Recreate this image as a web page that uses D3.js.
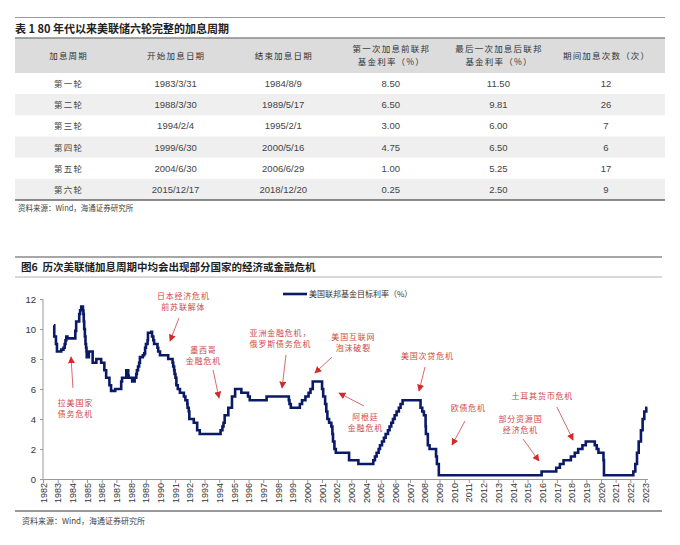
<!DOCTYPE html>
<html><head><meta charset="utf-8">
<script src="https://cdn.jsdelivr.net/npm/d3@7"></script>
<style>body{margin:0;background:#fff;}svg{display:block;}</style>
</head><body>
<svg id="c" width="680" height="545"></svg>
<script>
// ---------- Table data ----------
const tableTitle = "表 1 80 年代以来美联储六轮完整的加息周期";
const tableHeaders = [["加息周期"],["开始加息日期"],["结束加息日期"],["第一次加息前联邦","基金利率（%）"],["最后一次加息后联邦","基金利率（%）"],["期间加息次数（次）"]];
const cycles = ["第一轮","第二轮","第三轮","第四轮","第五轮","第六轮"];
const startDates = ["1983/3/31","1988/3/30","1994/2/4","1999/6/30","2004/6/30","2015/12/17"];
const endDates = ["1984/8/9","1989/5/17","1995/2/1","2000/5/16","2006/6/29","2018/12/20"];
const rateBefore = ["8.50","6.50","3.00","4.75","1.00","0.25"];
const rateAfter = ["11.50","9.81","6.00","6.50","5.25","2.50"];
const hikeCount = ["12","26","7","6","17","9"];
const sourceText = "资料来源：Wind，海通证券研究所";

// ---------- Chart data ----------
const chartTitle = "图6  历次美联储加息周期中均会出现部分国家的经济或金融危机";
const seriesName = "美国联邦基金目标利率（%）";
const yTicks = [0,2,4,6,8,10,12];
const yearLabels = d3.range(1982, 2024).map(String);
const rateDates = ["1982-09-27","1982-10-08","1982-11-19","1982-12-14","1983-03-31","1983-05-25","1983-06-24","1983-07-14","1983-08-04","1983-09-01",
"1984-03-15","1984-04-05","1984-06-20","1984-07-12","1984-08-09","1984-09-20","1984-10-02","1984-10-11","1984-10-22","1984-11-08","1984-11-23","1984-12-07","1984-12-18","1984-12-24",
"1985-02-14","1985-05-20","1985-08-20","1985-12-18","1986-03-07","1986-04-21","1986-07-11","1986-08-21","1986-12-03","1987-04-30","1987-05-22","1987-09-04","1987-10-22","1987-11-04",
"1988-01-28","1988-03-30","1988-05-09","1988-05-25","1988-06-22","1988-07-19","1988-08-08","1988-10-20","1988-11-22","1988-12-15","1989-01-05","1989-02-14","1989-02-24","1989-05-17","1989-06-06","1989-07-07","1989-07-27","1989-10-18","1989-11-06","1989-12-20",
"1990-07-13","1990-10-29","1990-11-14","1990-12-07","1990-12-18","1991-01-09","1991-02-01","1991-03-08","1991-04-30","1991-08-06","1991-09-13","1991-10-31","1991-11-06","1991-12-06","1991-12-20","1992-04-09","1992-07-02","1992-09-04",
"1994-02-04","1994-03-22","1994-04-18","1994-05-17","1994-08-16","1994-11-15","1995-02-01","1995-07-06","1995-12-19","1996-01-31","1997-03-25","1998-09-29","1998-10-15","1998-11-17","1999-06-30","1999-08-24","1999-11-16","2000-02-02","2000-03-21","2000-05-16",
"2001-01-03","2001-01-31","2001-03-20","2001-04-18","2001-05-15","2001-06-27","2001-08-21","2001-09-17","2001-10-02","2001-11-06","2001-12-11","2002-11-06","2003-06-25",
"2004-06-30","2004-08-10","2004-09-21","2004-11-10","2004-12-14","2005-02-02","2005-03-22","2005-05-03","2005-06-30","2005-08-09","2005-09-20","2005-11-01","2005-12-13","2006-01-31","2006-03-28","2006-05-10","2006-06-29",
"2007-09-18","2007-10-31","2007-12-11","2008-01-22","2008-01-30","2008-03-18","2008-04-30","2008-10-08","2008-10-29","2008-12-16",
"2015-12-17","2016-12-15","2017-03-16","2017-06-15","2017-12-14","2018-03-22","2018-06-14","2018-09-27","2018-12-20","2019-08-01","2019-09-19","2019-10-31","2020-03-04","2020-03-16",
"2022-03-17","2022-05-05","2022-06-16","2022-07-28","2022-09-22","2022-11-03","2022-12-15","2023-02-02","2023-03-01"];
const rateValues = [10.25,9.5,9.0,8.5,8.625,8.75,9.0,9.25,9.5,9.375,
9.875,10.5,11.0,11.25,11.5,11.25,11.0,10.5,10.0,9.5,9.0,8.75,8.5,8.125,
8.5,7.75,8.0,7.75,7.25,6.75,6.25,5.875,6.0,6.5,6.75,7.25,6.875,6.75,
6.5,6.75,7.0,7.25,7.5,7.75,8.125,8.25,8.375,8.75,9.0,9.25,9.75,9.8125,9.5,9.25,9.0,8.75,8.5,8.25,
8.0,7.75,7.5,7.25,7.0,6.75,6.25,6.0,5.75,5.5,5.25,5.0,4.75,4.5,4.0,3.75,3.25,3.0,
3.25,3.5,3.75,4.25,4.75,5.5,6.0,5.75,5.5,5.25,5.5,5.25,5.0,4.75,5.0,5.25,5.5,5.75,6.0,6.5,
6.0,5.5,5.0,4.5,4.0,3.75,3.5,3.0,2.5,2.0,1.75,1.25,1.0,
1.25,1.5,1.75,2.0,2.25,2.5,2.75,3.0,3.25,3.5,3.75,4.0,4.25,4.5,4.75,5.0,5.25,
4.75,4.5,4.25,3.5,3.0,2.25,2.0,1.5,1.0,0.25,
0.5,0.75,1.0,1.25,1.5,1.75,2.0,2.25,2.5,2.25,2.0,1.75,1.25,0.25,
0.5,1.0,1.75,2.5,3.25,4.0,4.5,4.75,4.75];

// Crisis annotations (text, anchored in data space: year / rate)
const annoLines = [["拉美国家","债务危机"],["日本经济危机","前苏联解体"],["墨西哥","金融危机"],["亚洲金融危机，","俄罗斯债务危机"],["美国互联网","泡沫破裂"],["阿根廷","金融危机"],["美国次贷危机"],["欧债危机"],["部分资源国","经济危机"],["土耳其货币危机"]];
const annoText = [[1984.18,5.07],[1991.53,12.2],[1992.9,8.6],[1998.14,9.73],[2003.11,9.47],[2003.93,4.13],[2008.15,8.2],[2010.94,4.73],[2014.49,4.0],[2015.98,5.53]];
const annoTail = [[1984.04,6.07],[1991.26,10.73],[1993.58,7.27],[1998.55,8.27],[2001.68,8.13],[2003.86,4.87],[2008.02,7.47],[2010.74,3.87],[2014.69,2.67],[2017.0,4.8]];
const annoHead = [[1983.91,8.13],[1990.65,9.2],[1993.99,5.4],[1998.28,6.07],[2000.52,7.07],[2002.16,5.73],[2007.61,5.87],[2009.86,2.27],[2015.78,1.2],[2018.1,2.6]];

// ---------- Drawing ----------
const svg = d3.select("#c");
const CJK = "'Noto Sans CJK SC','Noto Sans',sans-serif";
const LAT = "'Liberation Sans',Arial,sans-serif";

// Table
const tL = 15, tR = 665;
svg.append("line").attr("x1",tL).attr("x2",tR).attr("y1",17.5).attr("y2",17.5).attr("stroke","#9a9a9a").attr("stroke-width",1);
svg.append("text").attr("x",15).attr("y",33).attr("font-family",CJK).attr("font-size",11).attr("font-weight","bold").attr("fill","#222").text(tableTitle);

const colX = d3.scalePoint().domain(d3.range(6)).range([68,606]);
const headTop = 38, headBot = 73, rowH = (200-73)/6;
svg.append("rect").attr("x",tL).attr("y",headTop).attr("width",tR-tL).attr("height",headBot-headTop).attr("fill","#dcdcdc");
svg.append("line").attr("x1",tL).attr("x2",tR).attr("y1",headTop).attr("y2",headTop).attr("stroke","#8a8a8a").attr("stroke-width",1.5);
tableHeaders.forEach((h,i)=>{
  const t = svg.append("text").attr("x",colX(i)).attr("text-anchor","middle").attr("font-family",CJK).attr("font-size",8.5).attr("fill","#333").attr("letter-spacing",1.2);
  if(h.length===1){ t.append("tspan").attr("x",colX(i)+0.6).attr("y",59).text(h[0]); }
  else { h.forEach((s,k)=>t.append("tspan").attr("x",colX(i)+0.6).attr("y",52+k*13).text(s)); }
});
const cols = [cycles,startDates,endDates,rateBefore,rateAfter,hikeCount];
cycles.forEach((c,r)=>{
  const y0 = headBot + r*rowH;
  if(r%2===1) svg.append("rect").attr("x",tL).attr("y",y0).attr("width",tR-tL).attr("height",rowH).attr("fill","#efefef");
  cols.forEach((col,i)=>{
    svg.append("text").attr("x",colX(i)+(i===0?0.6:0)).attr("y",y0+rowH/2+3.5).attr("text-anchor","middle")
      .attr("font-family",i===0?CJK:LAT).attr("font-size",i===0?8.5:9.5).attr("letter-spacing",i===0?1.2:0).attr("fill","#444").text(col[r]);
  });
});
svg.append("line").attr("x1",tL).attr("x2",tR).attr("y1",200).attr("y2",200).attr("stroke","#666").attr("stroke-width",1.5);
svg.append("text").attr("x",18).attr("y",211).attr("font-family",CJK).attr("font-size",7.5).attr("fill","#444").text(sourceText);

// Chart header
svg.append("line").attr("x1",15).attr("x2",662).attr("y1",257).attr("y2",257).attr("stroke","#8a8a8a").attr("stroke-width",1.5);
svg.append("text").attr("x",21).attr("y",271).attr("font-family",CJK).attr("font-size",10.5).attr("font-weight","bold").attr("fill","#222").attr("xml:space","preserve").text(chartTitle);
svg.append("line").attr("x1",15).attr("x2",662).attr("y1",277).attr("y2",277).attr("stroke","#b0b0b0").attr("stroke-width",1);

// Scales
const parse = d3.timeParse("%Y-%m-%d");
const data = rateDates.map((d,i)=>({date:parse(d), v:rateValues[i]}));
const x = d3.scaleTime().domain([new Date(1982,0,1), new Date(2023,0,1)]).range([43,645]);
const y = d3.scaleLinear().domain([0,12]).range([479,299]);
const yr = t => { const yy=Math.floor(t); return new Date(yy,0,1).getTime() + (t-yy)*365.25*864e5; };
const px = t => x(new Date(yr(t)));

// Y axis
const gy = svg.append("g").attr("transform","translate(43,0)")
  .call(d3.axisLeft(y).tickValues(yTicks).tickSize(3).tickPadding(4).tickFormat(d3.format("d")));
gy.select(".domain").attr("stroke","#999").attr("d","M-0,"+y(12)+"V"+y(0));
gy.selectAll(".tick line").attr("stroke","#999");
gy.selectAll("text").attr("font-family",LAT).attr("font-size",9.5).attr("fill","#333");

// X axis
const yearDates = yearLabels.map(s=>new Date(+s,0,1));
const gx = svg.append("g").attr("transform","translate(0,479)")
  .call(d3.axisBottom(x).tickValues(yearDates).tickSize(4).tickSizeOuter(0).tickFormat(d3.timeFormat("%Y")));
gx.select(".domain").attr("stroke","#999").attr("d","M43,0.5H"+x(new Date(2023,2,15)));
gx.selectAll(".tick line").attr("stroke","#999");
gx.selectAll("text").attr("font-family",LAT).attr("font-size",9).attr("fill","#333")
  .attr("transform","rotate(-90)").attr("text-anchor","end").attr("x",-4).attr("y",0).attr("dy","0.35em");

// Line
const line = d3.line().x(d=>x(d.date)).y(d=>y(d.v)).curve(d3.curveStepAfter);
svg.append("path").datum(data).attr("d",line).attr("fill","none").attr("stroke","#0b1a66").attr("stroke-width",2.6).attr("stroke-linejoin","miter");

// Legend
svg.append("line").attr("x1",283).attr("x2",307).attr("y1",294).attr("y2",294).attr("stroke","#0b1a66").attr("stroke-width",2.6);
svg.append("text").attr("x",309).attr("y",294).attr("dy","0.35em").attr("font-family",CJK).attr("font-size",8).attr("fill","#333").text(seriesName);

// Annotations
const defs = svg.append("defs");
defs.append("marker").attr("id","ah").attr("viewBox","0 0 10 10").attr("refX",9).attr("refY",5)
  .attr("markerWidth",7).attr("markerHeight",7).attr("markerUnits","userSpaceOnUse").attr("orient","auto")
  .append("path").attr("d","M0,0L10,5L0,10z").attr("fill","#d42a2a");
annoLines.forEach((ls,i)=>{
  const [hx,hy]=annoHead[i],[tx,ty]=annoTail[i];
  svg.append("line").attr("x1",px(tx)).attr("y1",y(ty)).attr("x2",px(hx)).attr("y2",y(hy))
    .attr("stroke","#d86a6a").attr("stroke-width",1).attr("marker-end","url(#ah)");
  const t = svg.append("text").attr("text-anchor","middle").attr("font-family",CJK).attr("font-size",8).attr("letter-spacing",0.8).attr("fill","#d04848");
  ls.forEach((s,k)=>t.append("tspan").attr("x",px(annoText[i][0])+0.4).attr("y",y(annoText[i][1])+k*11).attr("dy","0.35em").text(s));
});

// Bottom
svg.append("line").attr("x1",15).attr("x2",662).attr("y1",511).attr("y2",511).attr("stroke","#777").attr("stroke-width",1.5);
svg.append("text").attr("x",22).attr("y",524).attr("font-family",CJK).attr("font-size",8).attr("fill","#444").text(sourceText);
</script>
</body></html>
